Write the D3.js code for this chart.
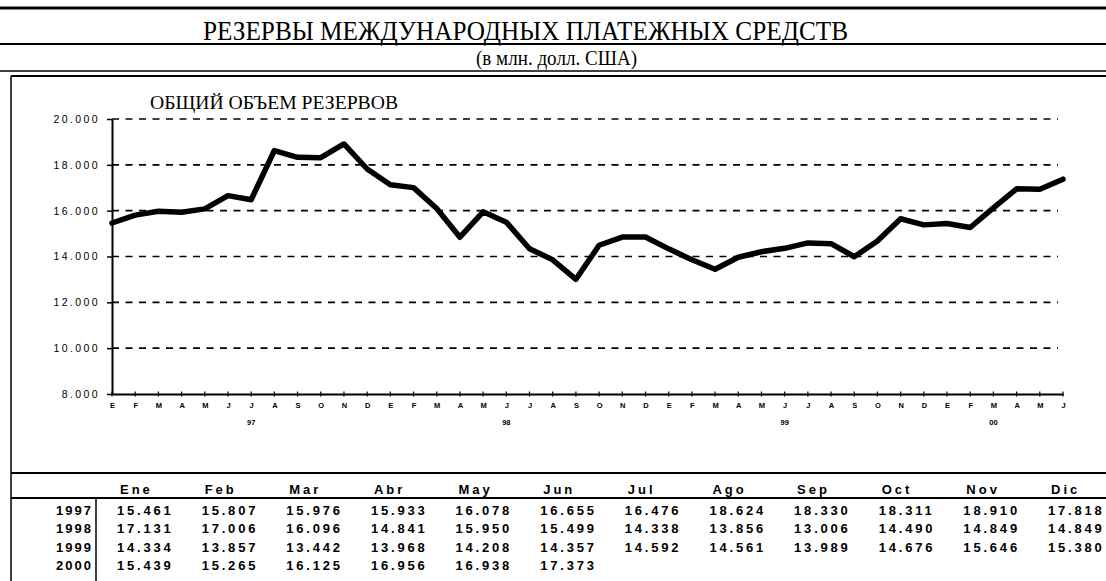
<!DOCTYPE html>
<html lang="ru">
<head>
<meta charset="UTF-8">
<title>Резервы</title>
<style>
  body { margin: 0; background: #fff; }
  svg { display: block; }
</style>
</head>
<body>
<script src="https://d3js.org/d3.v7.min.js"></script>
<script>
// data from the table under the chart (millions of USD)
const years = ["1997", "1998", "1999", "2000"];
const monthNames = ["Ene", "Feb", "Mar", "Abr", "May", "Jun", "Jul", "Ago", "Sep", "Oct", "Nov", "Dic"];
const monthInitials = ["E", "F", "M", "A", "M", "J", "J", "A", "S", "O", "N", "D"];
const v1997 = [15461, 15807, 15976, 15933, 16078, 16655, 16476, 18624, 18330, 18311, 18910, 17818];
const v1998 = [17131, 17006, 16096, 14841, 15950, 15499, 14338, 13856, 13006, 14490, 14849, 14849];
const v1999 = [14334, 13857, 13442, 13968, 14208, 14357, 14592, 14561, 13989, 14676, 15646, 15380];
const v2000 = [15439, 15265, 16125, 16956, 16938, 17373];
const yTicks = [8000, 10000, 12000, 14000, 16000, 18000, 20000];
const yearAxisLabels = ["97", "98", "99", "00"];
const yearAxisAt = [6, 17, 29, 38]; // category index under which the year label sits

const rows = [v1997, v1998, v1999, v2000];
const series = rows.flat();

const W = 1106, H = 581;
const svg = d3.select("body").append("svg")
    .attr("width", W).attr("height", H)
    .style("background", "#fff");

const serif = "'Liberation Serif', 'Times New Roman', serif";
const sans = "'Liberation Sans', Arial, sans-serif";

// header lines
const hline = (y, w, x0 = 0, x1 = W) => svg.append("line")
    .attr("x1", x0).attr("x2", x1).attr("y1", y).attr("y2", y)
    .attr("stroke", "#000").attr("stroke-width", w);
hline(8, 3);
hline(44, 2);
hline(71, 1.5);
hline(76, 2, 11);

svg.append("text")
    .attr("x", 203).attr("y", 40)
    .attr("textLength", 645).attr("lengthAdjust", "spacingAndGlyphs")
    .style("font-family", serif).style("font-size", "27px")
    .text("РЕЗЕРВЫ МЕЖДУНАРОДНЫХ ПЛАТЕЖНЫХ СРЕДСТВ");
svg.append("text")
    .attr("x", 476).attr("y", 65)
    .attr("textLength", 161).attr("lengthAdjust", "spacingAndGlyphs")
    .style("font-family", serif).style("font-size", "21px")
    .text("(в млн. долл. США)");

// chart box left border, runs down through the table
svg.append("line").attr("x1", 11).attr("x2", 11).attr("y1", 76).attr("y2", H)
    .attr("stroke", "#000").attr("stroke-width", 1.5);

// chart
const x = d3.scaleLinear().domain([0, series.length - 1]).range([112, 1063]);
const y = d3.scaleLinear().domain([8000, 20000]).range([394, 119]);

svg.append("text")
    .attr("x", 150).attr("y", 109)
    .attr("textLength", 248).attr("lengthAdjust", "spacingAndGlyphs")
    .style("font-family", serif).style("font-size", "19px")
    .text("ОБЩИЙ ОБЪЕМ РЕЗЕРВОВ");

// dashed gridlines
svg.append("g").selectAll("line")
    .data(yTicks.filter(t => t > 8000))
    .join("line")
    .attr("x1", x(0)).attr("x2", 1058)
    .attr("y1", d => y(d)).attr("y2", d => y(d))
    .attr("stroke", "#000").attr("stroke-width", 1.6)
    .attr("stroke-dasharray", "7,6.5");

// y axis
const fmt = d3.formatLocale({ decimal: ",", thousands: ".", grouping: [3], currency: ["", ""] }).format(",d");
const yAxis = svg.append("g")
    .attr("transform", `translate(${x(0)},0)`)
    .call(d3.axisLeft(y).tickValues(yTicks).tickSize(5).tickSizeOuter(0).tickPadding(7).tickFormat(fmt));
yAxis.select(".domain").attr("stroke-width", 2);
yAxis.selectAll(".tick line").attr("stroke-width", 1.5);
yAxis.selectAll("text")
    .style("font-family", sans).style("font-size", "10.5px")
    .style("letter-spacing", "2.4px").attr("fill", "#000");

// x axis
const xAxis = svg.append("g")
    .attr("transform", `translate(0,${y(8000)})`)
    .call(d3.axisBottom(x).tickValues(d3.range(series.length)).tickSize(0).tickSizeOuter(0)
        .tickPadding(9).tickFormat(i => monthInitials[i % 12]));
xAxis.select(".domain").attr("stroke-width", 2);
xAxis.selectAll("text")
    .style("font-family", sans).style("font-size", "7.5px").style("font-weight", "bold")
    .attr("fill", "#000");
xAxis.append("g").selectAll("line")
    .data(d3.range(series.length))
    .join("line")
    .attr("x1", d => x(d)).attr("x2", d => x(d))
    .attr("y1", -2.5).attr("y2", 2.5)
    .attr("stroke", "#000").attr("stroke-width", 1.2);
svg.append("g").selectAll("text")
    .data(yearAxisLabels)
    .join("text")
    .attr("x", (d, i) => x(yearAxisAt[i]))
    .attr("y", 425)
    .attr("text-anchor", "middle")
    .style("font-family", sans).style("font-size", "7.5px").style("font-weight", "bold")
    .text(d => d);

// the series line
svg.append("path")
    .datum(series)
    .attr("fill", "none")
    .attr("stroke", "#000")
    .attr("stroke-width", 5.5)
    .attr("stroke-linejoin", "round")
    .attr("stroke-linecap", "round")
    .attr("d", d3.line().x((d, i) => x(i)).y(d => y(d)));

// table
hline(473, 2, 11);
hline(498, 2, 11);
svg.append("line").attr("x1", 96).attr("x2", 96).attr("y1", 498).attr("y2", H)
    .attr("stroke", "#000").attr("stroke-width", 1.5);

const colX = d3.scaleLinear().domain([0, 11]).range([117, 1048]);
const rowY = d3.scaleLinear().domain([0, 3]).range([515, 570]);
const cellStyle = sel => sel
    .style("font-family", sans).style("font-size", "13px").style("font-weight", "bold")
    .attr("fill", "#000");

svg.append("g").selectAll("text")
    .data(monthNames)
    .join("text")
    .attr("x", (d, i) => colX(i) + 3)
    .attr("y", 494)
    .style("letter-spacing", "3px")
    .call(cellStyle)
    .text(d => d);

svg.append("g").selectAll("text")
    .data(years)
    .join("text")
    .attr("x", 93)
    .attr("y", (d, i) => rowY(i))
    .attr("text-anchor", "end")
    .style("letter-spacing", "2px")
    .call(cellStyle)
    .text(d => d);

rows.forEach((row, r) => {
    svg.append("g").selectAll("text")
        .data(row)
        .join("text")
        .attr("x", (d, i) => colX(i))
        .attr("y", rowY(r))
        .style("letter-spacing", "2.8px")
        .call(cellStyle)
        .text(d => fmt(d));
});
</script>
</body>
</html>
